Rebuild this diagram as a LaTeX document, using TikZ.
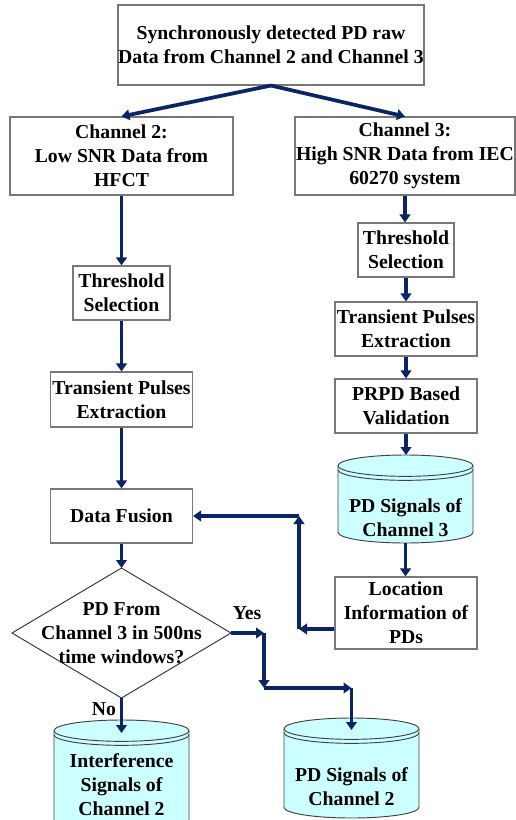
\documentclass[tikz,border=0pt]{standalone}
\usepackage{fontspec}
\setmainfont{Liberation Serif}[BoldFont={Liberation Serif Bold}]
\usetikzlibrary{arrows.meta,calc}
\definecolor{navy}{RGB}{10,36,100}
\definecolor{cylcyan}{RGB}{204,255,255}
\definecolor{boxgray}{RGB}{120,120,120}
\newcommand\cylry{8pt}
\newcommand\drawcyl[2]{%
  \draw[cylstyle] ($(#1.north west)+(0pt,-\cylry)$) -- ($(#1.south west)+(0pt,\cylry)$)
    arc[start angle=180,end angle=360,x radius=#2,y radius=\cylry]
    -- ($(#1.north east)+(0pt,-\cylry)$)
    arc[start angle=0,end angle=180,x radius=#2,y radius=\cylry] -- cycle;
  \draw[cylline] ($(#1.north west)+(0pt,-\cylry)$) arc[start angle=180,end angle=360,x radius=#2,y radius=\cylry];
  \draw[cylline] ($(#1.north west)+(0pt,-\cylry-3pt)$) arc[start angle=180,end angle=360,x radius=#2,y radius=\cylry];
}
\tikzset{
  txt/.style={font=\fontsize{14.8pt}{18pt}\selectfont\bfseries, align=center, inner sep=0pt},
  box/.style={txt, draw=boxgray, line width=0.8pt, fill=white},
  ghost/.style={inner sep=0pt, outer sep=0pt},
  cylstyle/.style={draw=black!75, line width=0.7pt, fill=cylcyan},
  cylline/.style={draw=black!75, line width=0.7pt},
  arr/.style={draw=navy, line width=2.8pt, -{Triangle[length=6pt,width=8pt]}},
}
\begin{document}
\begin{tikzpicture}[x=0.75pt,y=-0.75pt]
\useasboundingbox (0,0) rectangle (516,820);
\clip (0,0) rectangle (516,820);
% boxes
\node[box, minimum width=229.5pt, minimum height=60pt] (top) at (271,45) {Synchronously detected PD raw\\Data from Channel 2 and Channel 3};
\node[box, minimum width=167.25pt, minimum height=58.5pt] (ch2) at (121.5,156) {Channel 2:\\Low SNR Data from\\HFCT};
\node[box, minimum width=165pt, minimum height=58.5pt] (ch3) at (405,156) {Channel 3:\\High SNR Data from IEC\\60270 system};
\node[box, minimum width=72.75pt, minimum height=40.5pt] (thL) at (121.5,293) {Threshold\\Selection};
\node[box, minimum width=106.5pt, minimum height=41.25pt] (trL) at (121.5,399.5) {Transient Pulses\\Extraction};
\node[box, minimum width=72pt, minimum height=40.5pt] (thR) at (406,250) {Threshold\\Selection};
\node[box, minimum width=106.5pt, minimum height=40.5pt] (trR) at (406,329) {Transient Pulses\\Extraction};
\node[box, minimum width=106.5pt, minimum height=40.5pt] (prpd) at (406,406) {PRPD Based\\Validation};
\node[box, minimum width=106.5pt, minimum height=54pt] (loc) at (406,613) {Location\\Information of\\PDs};
\node[box, minimum width=106.5pt, minimum height=40.5pt] (fus) at (121.5,516) {Data Fusion};
% decision
\node[ghost, minimum width=164.25pt, minimum height=97.5pt] (dec) at (121.5,633) {};
\draw[draw=black!80, line width=0.7pt, fill=white] (dec.north) -- (dec.east) -- (dec.south) -- (dec.west) -- cycle;
\node[txt] (dectxt) at (dec.center) {PD From\\Channel 3 in 500ns\\time windows?};
% cylinders
\node[ghost, minimum width=101.25pt, minimum height=66pt] (cylR) at (405.5,499) {};
\drawcyl{cylR}{50.625pt}
\node[txt] (cylRt) at (405.5,518) {PD Signals of\\Channel 3};
\node[ghost, minimum width=101.25pt, minimum height=75pt] (cyl2) at (351.5,768) {};
\drawcyl{cyl2}{50.625pt}
\node[txt] (cyl2t) at (351.5,787) {PD Signals of\\Channel 2};
\node[ghost, minimum width=101.25pt, minimum height=86.25pt] (cylI) at (121.5,777.5) {};
\drawcyl{cylI}{50.625pt}
\node[txt] (cylIt) at (121.5,785) {Interference\\Signals of\\Channel 2};
% labels
\node[txt] (yes) at (247,613) {Yes};
\node[txt] (no) at (104,709) {No};
% coordinates
\coordinate (y1) at (264,633);
\coordinate (y2) at (264,688);
\coordinate (y3) at (351.5,688);
\coordinate (l1) at (299,629);
\coordinate (l2) at (299,516);
% arrows
\draw[arr] (top.south) -- (ch2.north);
\draw[arr] (top.south) -- (ch3.north);
\draw[arr] (ch2.south) -- (thL.north);
\draw[arr] (thL.south) -- (trL.north);
\draw[arr] (trL.south) -- (fus.north);
\draw[arr] (fus.south) -- (dec.north);
\draw[arr] (dec.south) -- ($(cylI.north)+(0,13)$);
\draw[arr] (ch3.south) -- (ch3.south |- thR.north);
\draw[arr] (thR.south) -- (thR.south |- trR.north);
\draw[arr] (trR.south) -- (prpd.north);
\draw[arr] (prpd.south) -- (prpd.south |- cylR.north);
\draw[arr] (cylR.south) -- (cylR.south |- loc.north);
\draw[arr] (loc.west |- l1) -- (l1);
\draw[arr] (l1) -- (l2);
\draw[arr] (l2) -- (fus.east);
\draw[arr] (dec.east) -- (y1);
\draw[arr] (y1) -- (y2);
\draw[arr] (y2) -- (y3);
\draw[arr] (y3) -- ($(cyl2.north)+(0,12)$);
\end{tikzpicture}
\end{document}
